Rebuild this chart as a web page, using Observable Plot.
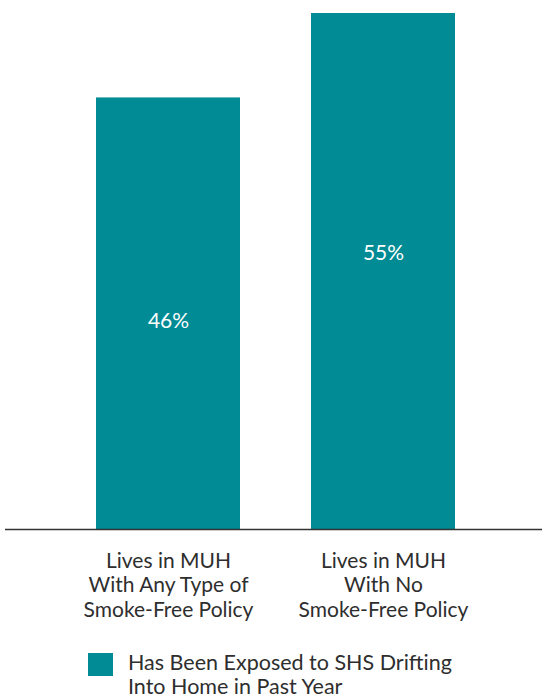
<!DOCTYPE html>
<html>
<head>
<meta charset="utf-8">
<script src="https://cdn.jsdelivr.net/npm/d3@7"></script>
<script src="https://cdn.jsdelivr.net/npm/@observablehq/plot@0.6"></script>
<style>
  body { margin: 0; background: #fff; font-family: Lato, "Open Sans", sans-serif; color: #2e2e2e; overflow: hidden; }
  #legend { display: flex; align-items: flex-start; padding-left: 88px; font-size: 21.5px; line-height: 24px; }
  #legend .sw { width: 25px; height: 23px; margin-top: 3px; margin-right: 15px; flex: none; }
</style>
</head>
<body>
<div id="chart"></div>
<div id="legend"></div>
<script>
const categories = [
  "Lives in MUH\nWith Any Type of\nSmoke-Free Policy",
  "Lives in MUH\nWith No\nSmoke-Free Policy"
];
const values = [46, 55];
const valueLabels = ["46%", "55%"];
const seriesName = "Has Been Exposed to SHS Drifting\nInto Home in Past Year";
const color = "#018b94";

const data = categories.map((c, i) => ({category: c, value: values[i], label: valueLabels[i]}));

const chart = Plot.plot({
  width: 542,
  height: 650,
  marginTop: 13,
  marginBottom: 121,
  marginLeft: 5,
  marginRight: 0,
  style: {fontFamily: "Lato, 'Open Sans', sans-serif", fontSize: "21px", color: "#2e2e2e"},
  x: {domain: categories, paddingInner: 0.329, paddingOuter: 0.408, align: 0.511, label: null},
  y: {domain: [0, 55], axis: null},
  marks: [
    Plot.barY(data, {x: "category", y: "value", fill: color}),
    Plot.text(data.slice(0, 1), {x: "category", y: d => d.value / 2, text: "label", fill: "white", fontSize: 21, dy: 8}),
    Plot.text(data.slice(1), {x: "category", y: d => d.value / 2, text: "label", fill: "white", fontSize: 21, dy: -18}),
    Plot.ruleY([0], {stroke: "#333", strokeWidth: 1.3}),
    Plot.axisX({tickSize: 0, tickPadding: 21, fontSize: 21, lineHeight: 1.16, fill: "#2e2e2e", label: null})
  ]
});
document.getElementById("chart").appendChild(chart);

const legend = document.getElementById("legend");
const sw = document.createElement("div");
sw.className = "sw";
sw.style.background = color;
const txt = document.createElement("div");
txt.innerHTML = seriesName.split("\n").join("<br>");
legend.appendChild(sw);
legend.appendChild(txt);
</script>
</body>
</html>
